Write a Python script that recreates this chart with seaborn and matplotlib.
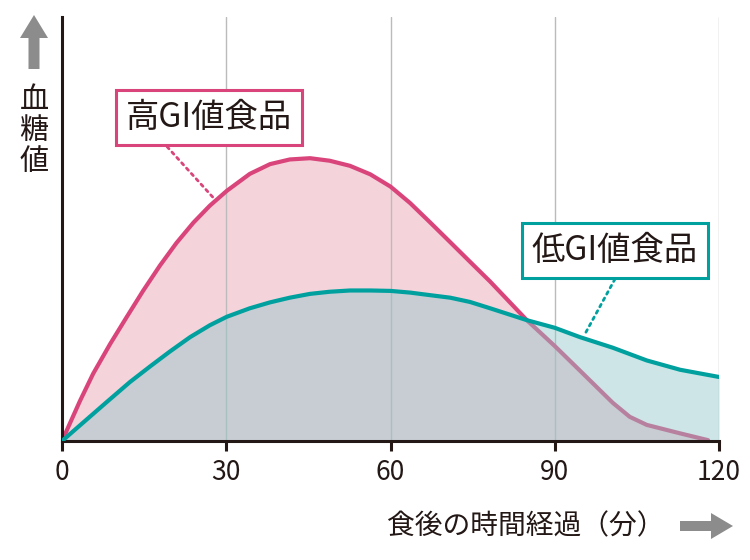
import numpy as np
import pandas as pd
import matplotlib
matplotlib.use("Agg")
import matplotlib.pyplot as plt
import matplotlib.transforms as mtrans
from matplotlib.patches import FancyArrow
import seaborn as sns

# blood sugar curves (minutes after a meal, relative level)
high_min = [0, 3.3, 5.7, 8.8, 11.8, 14.8, 17.9, 20.9, 24.0, 27.0, 30.1, 34.3, 38.0,
            41.6, 45.3, 48.9, 52.6, 56.3, 60.0, 63.6, 67.2, 70.9, 74.5, 78.2, 84.9,
            90.0, 94.6, 100.6, 103.7, 106.8, 112.9, 118.0]
high_gi = [0, 9.5, 15.9, 22.9, 29.2, 35.4, 41.4, 46.7, 51.5, 55.5, 59.0, 63.0, 65.3,
           66.4, 66.7, 66.1, 64.9, 62.9, 60.0, 56.1, 51.6, 46.9, 42.3, 37.6, 28.5,
           22.4, 16.6, 9.0, 5.7, 3.8, 1.8, 0.2]
low_min = [0, 4.0, 8.0, 12.4, 16.1, 19.7, 23.4, 27.0, 30.1, 34.3, 38.0, 41.6, 45.3,
           48.9, 52.6, 56.3, 60.0, 63.6, 67.2, 70.9, 74.5, 78.2, 84.9, 90.0, 94.6,
           100.6, 106.8, 112.9, 120.0]
low_gi = [0, 4.5, 9.0, 13.9, 17.6, 21.1, 24.5, 27.3, 29.3, 31.3, 32.7, 33.8, 34.7,
          35.2, 35.5, 35.5, 35.4, 35.0, 34.4, 33.8, 32.8, 31.3, 28.5, 26.7, 24.5,
          22.0, 19.0, 16.8, 15.1]
xticks = [0, 30, 60, 90, 120]

high = pd.DataFrame({"minutes": high_min, "level": high_gi})
low = pd.DataFrame({"minutes": low_min, "level": low_gi})

pink = "#D9457A"
pink_fill = "#F5D3DA"
teal = "#00A09F"
teal_fill = (146/255, 200/255, 203/255, 0.46)
ink = "#231815"
grey = "#8C8C8C"

sns.set_theme(style="white")
plt.rcParams["font.family"] = ["Noto Sans CJK JP", "DejaVu Sans"]

fig = plt.figure(figsize=(7.5, 5.6), dpi=100)
ax = fig.add_axes([62/750, 1 - 441/560, (719 - 62)/750, (441 - 17)/560])

ax.fill_between(high["minutes"], 0, high["level"], color=pink_fill, lw=0, zorder=0.2)
sns.lineplot(data=high, x="minutes", y="level", color=pink, lw=3, ax=ax, zorder=2)
ax.fill_between(low["minutes"], 0, low["level"], color=teal_fill, lw=0, zorder=2.2)
sns.lineplot(data=low, x="minutes", y="level", color=teal, lw=3, ax=ax, zorder=3)

ax.set_xlim(0, 120)
ax.set_ylim(0, 100)
ax.set_xticks(xticks)
ax.set_xticklabels([str(t) for t in xticks], fontsize=19, color=ink)
ax.set_yticks([])
ax.set_xlabel("")
ax.set_ylabel("")
ax.set_axisbelow(True)
ax.grid(axis="x", color="#BBBBBB", lw=1)
ax.grid(axis="y", visible=False)
ax.tick_params(axis="x", direction="out", length=7, width=2.2, color=ink, pad=6, bottom=True)
for s in ["top", "right"]:
    ax.spines[s].set_visible(False)
for s in ["left", "bottom"]:
    ax.spines[s].set_color(ink)
    ax.spines[s].set_linewidth(2.2)

# callout labels
dots = dict(arrowstyle="-", lw=2, linestyle=(0, (1, 1.6)), shrinkA=0, shrinkB=0)
ax.text(26.8, 76.3, "高GI値食品", ha="center", va="center", fontsize=24, color=ink,
        bbox=dict(boxstyle="square,pad=0.3", fc="white", ec=pink, lw=2.2), zorder=5)
ax.annotate("", xy=(27.9, 57.0), xytext=(19.2, 69.4),
            arrowprops=dict(dots, color=pink), zorder=4)
ax.text(101, 45, "低GI値食品", ha="center", va="center", fontsize=24, color=ink,
        bbox=dict(boxstyle="square,pad=0.3", fc="white", ec=teal, lw=2.2), zorder=5)
ax.annotate("", xy=(95.5, 25.2), xytext=(101, 38.2),
            arrowprops=dict(dots, color=teal), zorder=4)

# axis titles with arrows
fig.text(34/750, 1 - 131/560, "血\n糖\n値", ha="center", va="center",
         fontsize=21, color=ink, linespacing=1.06)
fig.text(665/750, 1 - 526/560, "食後の時間経過（分）", ha="right", va="center",
         fontsize=20, color=ink)

px = mtrans.IdentityTransform()
fig.patches.append(FancyArrow(34, 560 - 69, 0, 54, width=11, head_width=28,
                              head_length=23, length_includes_head=True,
                              color=grey, lw=0, transform=px, figure=fig))
fig.patches.append(FancyArrow(680, 560 - 526, 53, 0, width=10, head_width=26,
                              head_length=22, length_includes_head=True,
                              color=grey, lw=0, transform=px, figure=fig))

fig.savefig("out.png", dpi=100)
